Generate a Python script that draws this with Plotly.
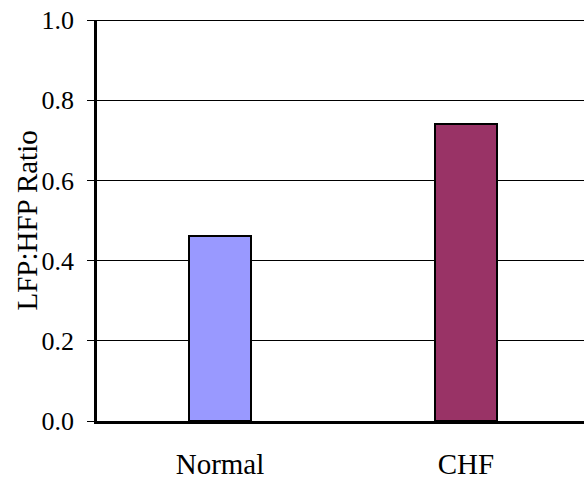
import plotly.graph_objects as go

categories = ["Normal", "CHF"]
values = [0.462, 0.741]
colors = ["#9999FF", "#993366"]
y_ticks = [0.0, 0.2, 0.4, 0.6, 0.8, 1.0]
y_tick_labels = ["0.0", "0.2", "0.4", "0.6", "0.8", "1.0"]
y_title = "LFP:HFP Ratio"

FONT = "Liberation Serif, Times New Roman, serif"

fig = go.Figure()
fig.add_trace(go.Bar(
    x=[0, 1], y=values, width=0.252,
    marker=dict(color=colors, line=dict(color="black", width=2)),
    showlegend=False, hoverinfo="skip",
))

fig.update_layout(
    width=584, height=481,
    margin=dict(l=97, r=0, t=20, b=60, pad=0),
    paper_bgcolor="white", plot_bgcolor="white",
    font=dict(family=FONT, color="black"),
    bargap=0,
)
fig.update_xaxes(
    range=[-0.5, 1.48], tickmode="array", tickvals=[0, 1], ticktext=categories,
    showline=True, linecolor="black", linewidth=3,
    ticks="outside", ticklen=15, tickcolor="rgba(0,0,0,0)",
    tickfont=dict(size=29, family=FONT, color="black"),
    showgrid=False, zeroline=False, fixedrange=True,
)
fig.update_yaxes(
    range=[0, 1], tickmode="array", tickvals=y_ticks, ticktext=y_tick_labels,
    showline=True, linecolor="black", linewidth=2.5,
    ticks="outside", ticklen=7, tickcolor="black", tickwidth=1,
    ticklabelstandoff=8,
    tickfont=dict(size=26, family=FONT, color="black"),
    showgrid=True, gridcolor="black", gridwidth=1,
    zeroline=False, fixedrange=True,
)
fig.add_shape(type="line", xref="paper", yref="y", x0=0, x1=1, y0=1, y1=1,
              line=dict(color="black", width=2))
fig.add_annotation(
    text=y_title, textangle=-90, xref="paper", yref="paper",
    x=(26 - 97) / 487, y=0.5, xanchor="center", yanchor="middle",
    showarrow=False, font=dict(size=29, family=FONT, color="black"),
)
fig.write_html("out.html")
